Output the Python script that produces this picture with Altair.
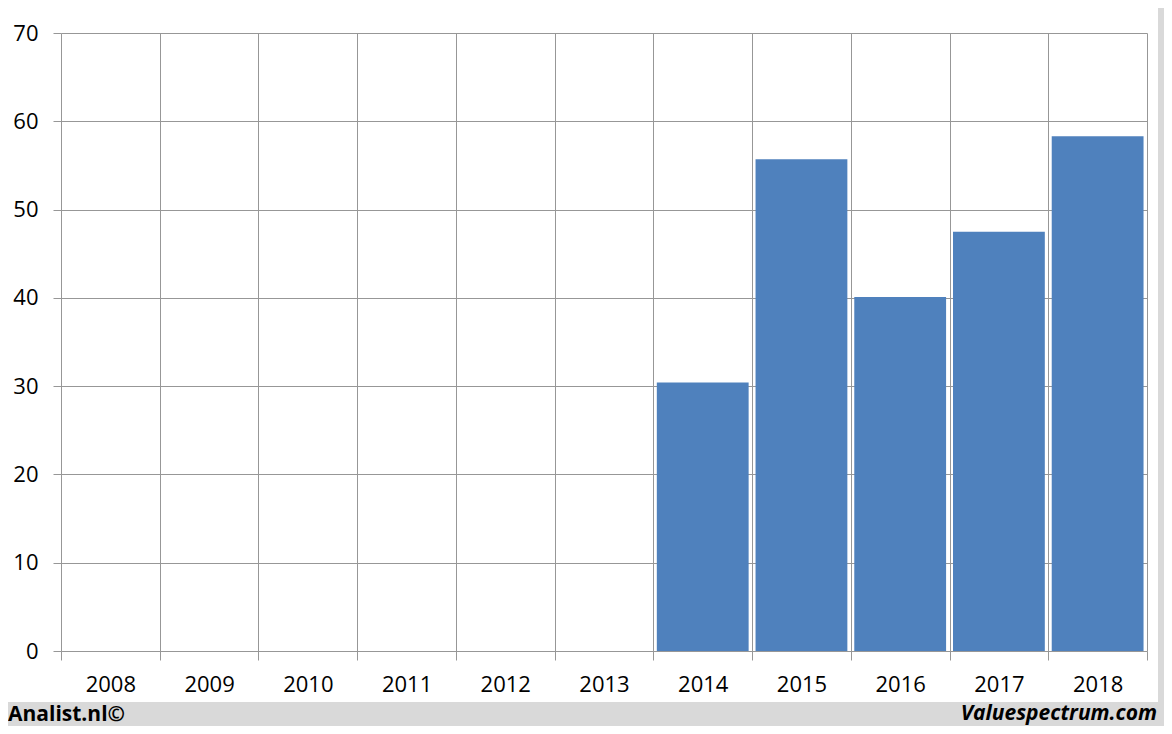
import altair as alt
import pandas as pd

years = ["2008", "2009", "2010", "2011", "2012", "2013", "2014", "2015", "2016", "2017", "2018"]
values = [None, None, None, None, None, None, 30.4, 55.7, 40.1, 47.5, 58.3]
y_ticks = [0, 10, 20, 30, 40, 50, 60, 70]
footer_left = ["Analist.nl©"]
footer_right = ["Valuespectrum.com"]

df = pd.DataFrame({"year": years, "value": values})

W, H = 1086, 618
GRID = "#979797"
FONT = "Open Sans"

bars = alt.Chart(df).mark_bar(color="#4f81bd", width=alt.RelativeBandSize(0.93)).encode(
    x=alt.X(
        "year:N",
        sort=years,
        scale=alt.Scale(domain=years, paddingInner=0, paddingOuter=0),
        axis=alt.Axis(
            title=None, labelAngle=0, tickBand="extent", grid=True, gridColor=GRID,
            gridOpacity=1, tickColor=GRID, tickSize=9, domain=False, labelPadding=14,
            labelFont=FONT, labelFontSize=22, labelColor="#000000",
        ),
    ),
    y=alt.Y(
        "value:Q",
        scale=alt.Scale(domain=[0, 70], nice=False),
        axis=alt.Axis(
            title=None, values=y_ticks, grid=True, gridColor=GRID, gridOpacity=1,
            tickColor=GRID, tickSize=8, domain=False, labelPadding=15,
            labelFont=FONT, labelFontSize=22, labelColor="#000000",
        ),
    ),
)

one = pd.DataFrame({"k": [1]})
footer_band = alt.Chart(one).mark_rect(color="#d9d9d9").encode(
    x=alt.value(-53), x2=alt.value(1103), y=alt.value(669), y2=alt.value(693)
)
right_band = alt.Chart(one).mark_rect(color="#d9d9d9").encode(
    x=alt.value(1097), x2=alt.value(1103), y=alt.value(-25), y2=alt.value(669)
)

left_text = alt.Chart(pd.DataFrame({"t": footer_left})).mark_text(
    align="left", baseline="alphabetic", font=FONT, fontSize=21, fontWeight="bold", color="#000000"
).encode(text="t:N", x=alt.value(-53), y=alt.value(688))

right_text = alt.Chart(pd.DataFrame({"t": footer_right})).mark_text(
    align="right", baseline="alphabetic", font=FONT, fontSize=21, fontWeight="bold",
    fontStyle="italic", color="#000000"
).encode(text="t:N", x=alt.value(1096), y=alt.value(687))

chart = alt.layer(footer_band, right_band, bars, left_text, right_text).properties(
    width=W, height=H,
    autosize=alt.AutoSizeParams(type="none"),
    padding={"left": 53, "top": 25, "right": 17, "bottom": 75},
    background="white",
).configure_view(stroke=None)

chart.save("out.html", embed_options={"renderer": "svg", "actions": False})
